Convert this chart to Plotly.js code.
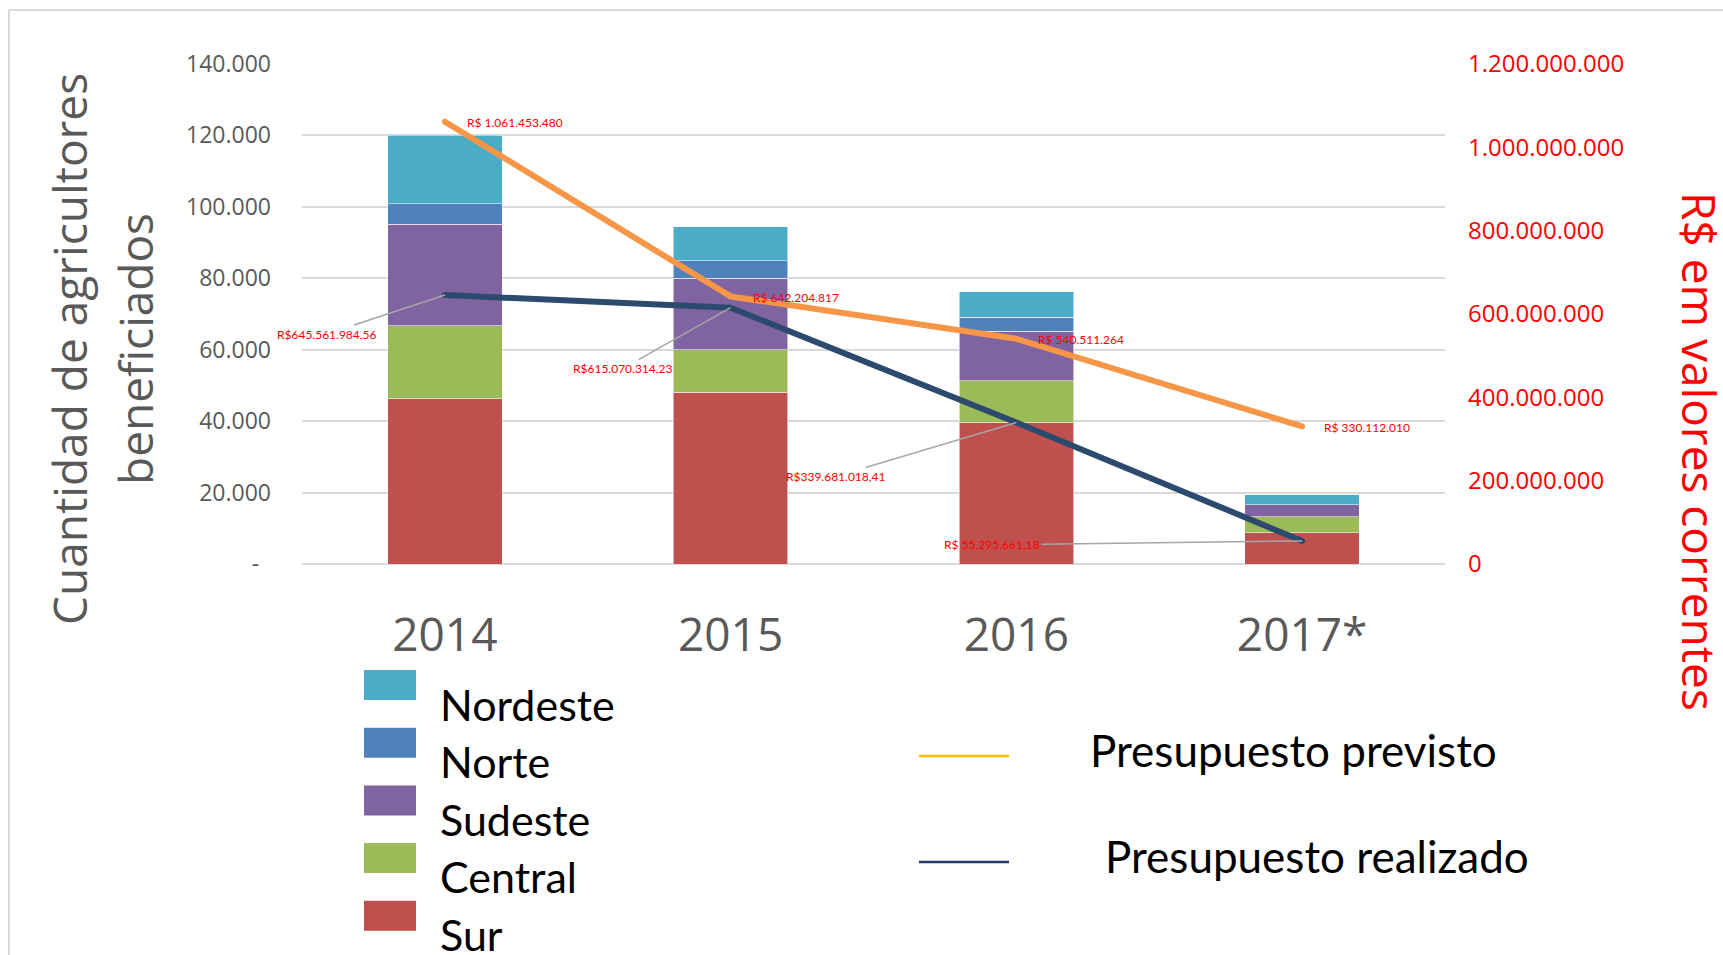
<!DOCTYPE html>
<html>
<head>
<meta charset="utf-8">
<script src="https://cdn.plot.ly/plotly-3.0.1.min.js"></script>
<style>
  html, body { margin: 0; padding: 0; background: #ffffff; }
  #chart { width: 1723px; height: 955px; }
  #chart .scatterlayer .js-line { stroke-linecap: round; stroke-linejoin: round; }
</style>
</head>
<body>
<div id="chart"></div>
<script>
// ---------- DATA ----------
const years = ['2014', '2015', '2016', '2017*'];

const regionNames = ['Sur', 'Central', 'Sudeste', 'Norte', 'Nordeste'];
const sur      = [46250, 48100, 39530, 8740];
const central  = [20460, 11900, 11820, 4560];
const sudeste  = [28360, 20000, 13860, 3350];
const norte    = [5860, 4940, 3820, 0];
const nordeste = [19070, 9480, 7250, 2790];

const previsto  = [1061453480, 642204817, 540511264, 330112010];
const realizado = [645561984.56, 615070314.23, 339681018.41, 55295661.18];

const previstoLabels  = ['R$ 1.061.453.480', 'R$ 642.204.817', 'R$ 540.511.264', 'R$ 330.112.010'];
const realizadoLabels = ['R$645.561.984,56', 'R$615.070.314,23', 'R$339.681.018,41', 'R$ 55.295.661,18'];

const leftTickVals  = [0, 20000, 40000, 60000, 80000, 100000, 120000, 140000];
const leftTickText  = ['-\u00a0\u00a0', '20.000', '40.000', '60.000', '80.000', '100.000', '120.000', '140.000'];
const rightTickVals = [0, 200000000, 400000000, 600000000, 800000000, 1000000000, 1200000000];
const rightTickText = ['0', '200.000.000', '400.000.000', '600.000.000', '800.000.000', '1.000.000.000', '1.200.000.000'];

const lineNames = ['Presupuesto previsto', 'Presupuesto realizado'];
const legendOrder = ['Nordeste', 'Norte', 'Sudeste', 'Central', 'Sur'];

// category index for each year (the axis shows the year labels)
const xi = years.map(function (_, i) { return i; });

// ---------- STYLE ----------
const regionColors = {
  'Sur': '#C0504D', 'Central': '#9BBB59', 'Sudeste': '#8064A2',
  'Norte': '#4F81BD', 'Nordeste': '#4BACC6'
};
const regionValues = { 'Sur': sur, 'Central': central, 'Sudeste': sudeste, 'Norte': norte, 'Nordeste': nordeste };
const orange = '#F79646';
const navy = '#2C4A6E';
const grey = '#595959';
const red = '#FF0000';

// plot area in pixels
const W = 1723, H = 955;
const PL = 302, PR = 1445, PT = 64, PB = 564;
function px(x) { return (x - PL) / (PR - PL); }
function py(y) { return (PB - y) / (PB - PT); }

// ---------- TRACES ----------
const traces = [];
regionNames.forEach(function (name) {
  traces.push({
    type: 'bar', name: name, x: xi, y: regionValues[name],
    marker: { color: regionColors[name], line: { color: 'rgba(255,255,255,0.55)', width: 1 } },
    showlegend: false
  });
});
traces.push({
  type: 'scatter', mode: 'lines', name: lineNames[0], x: xi, y: previsto, yaxis: 'y2',
  line: { color: orange, width: 6 }, showlegend: false
});
traces.push({
  type: 'scatter', mode: 'lines', name: lineNames[1], x: xi, y: realizado, yaxis: 'y2',
  line: { color: navy, width: 6 }, showlegend: false
});

// ---------- ANNOTATIONS ----------
const annFont = { family: 'Lato, "Open Sans", sans-serif', size: 12, color: red };
const annotations = [];
previstoLabels.forEach(function (t, i) {
  annotations.push({
    xref: 'x', yref: 'y2', x: xi[i], y: previsto[i], text: t, showarrow: false,
    xanchor: 'left', yanchor: 'middle', xshift: 20, yshift: -1, font: annFont
  });
});
const realOffsets = [[-118, 39], [-108, 61], [-181, 54], [-310, 4]];
realizadoLabels.forEach(function (t, i) {
  annotations.push({
    xref: 'x', yref: 'y2', x: xi[i], y: realizado[i], text: t, showarrow: true,
    arrowhead: 0, arrowwidth: 1.5, arrowcolor: '#A6A6A6', standoff: 0,
    ax: realOffsets[i][0], ay: realOffsets[i][1], font: annFont
  });
});

// axis titles
const titleFont = { family: '"Open Sans", sans-serif', size: 46, color: grey };
annotations.push({
  xref: 'paper', yref: 'paper', x: px(69), y: py(349), text: 'Cuantidad de agricultores',
  textangle: -90, showarrow: false, xanchor: 'center', yanchor: 'middle', font: titleFont
});
annotations.push({
  xref: 'paper', yref: 'paper', x: px(135), y: py(349), text: 'beneficiados',
  textangle: -90, showarrow: false, xanchor: 'center', yanchor: 'middle', font: titleFont
});
annotations.push({
  xref: 'paper', yref: 'paper', x: px(1700), y: py(452), text: 'R$ em valores correntes',
  textangle: 90, showarrow: false, xanchor: 'center', yanchor: 'middle',
  font: { family: '"Open Sans", sans-serif', size: 46, color: red }
});

// ---------- CUSTOM LEGEND ----------
const shapes = [];
const legFont = { family: 'Lato, sans-serif', size: 43, color: '#000000' };
legendOrder.forEach(function (name, i) {
  const top = 670 + 57.7 * i;
  shapes.push({
    type: 'rect', xref: 'paper', yref: 'paper', x0: px(364), x1: px(416), y0: py(top), y1: py(top + 30),
    fillcolor: regionColors[name], line: { width: 0 }
  });
  annotations.push({
    xref: 'paper', yref: 'paper', x: px(438), y: py(704 + 57.5 * i), text: name, showarrow: false,
    xanchor: 'left', yanchor: 'middle', font: legFont
  });
});
const lineLegend = [
  { name: lineNames[0], color: '#FFC000', ly: 756, tx: 1088, ty: 750 },
  { name: lineNames[1], color: '#1F3864', ly: 862, tx: 1103, ty: 856 }
];
lineLegend.forEach(function (d) {
  shapes.push({
    type: 'line', xref: 'paper', yref: 'paper', x0: px(919), x1: px(1009), y0: py(d.ly), y1: py(d.ly),
    line: { color: d.color, width: 2.5 }
  });
  annotations.push({
    xref: 'paper', yref: 'paper', x: px(d.tx), y: py(d.ty), text: d.name, showarrow: false,
    xanchor: 'left', yanchor: 'middle', font: { family: 'Lato, sans-serif', size: 44, color: '#000000' }
  });
});

// chart frame (top and left border)
shapes.push({ type: 'line', xref: 'paper', yref: 'paper', x0: px(9), x1: px(1730), y0: py(10), y1: py(10),
  line: { color: '#D9D9D9', width: 2 } });
shapes.push({ type: 'line', xref: 'paper', yref: 'paper', x0: px(9), x1: px(9), y0: py(10), y1: py(960),
  line: { color: '#D9D9D9', width: 2 } });

// ---------- LAYOUT ----------
const layout = {
  width: W, height: H,
  margin: { l: PL, r: W - PR, t: PT, b: H - PB, pad: 0 },
  paper_bgcolor: '#ffffff', plot_bgcolor: '#ffffff',
  barmode: 'stack', bargap: 0.6,
  showlegend: false,
  xaxis: {
    type: 'linear', range: [-0.5, xi.length - 0.5],
    tickmode: 'array', tickvals: xi, ticktext: years,
    showgrid: false, showline: false, zeroline: false, ticks: '',
    tickfont: { family: '"Open Sans", sans-serif', size: 46, color: grey },
    ticklabelstandoff: 40
  },
  yaxis: {
    range: [0, 140000], tickmode: 'array', tickvals: leftTickVals, ticktext: leftTickText,
    showgrid: true, gridcolor: '#D9D9D9', gridwidth: 2,
    zeroline: true, zerolinecolor: '#D9D9D9', zerolinewidth: 2,
    showline: false, ticks: '',
    tickfont: { family: '"Open Sans", sans-serif', size: 23, color: grey },
    ticklabelstandoff: 30
  },
  yaxis2: {
    overlaying: 'y', side: 'right', range: [0, 1200000000],
    tickmode: 'array', tickvals: rightTickVals, ticktext: rightTickText,
    showgrid: false, zeroline: false, showline: false, ticks: '',
    tickfont: { family: '"Open Sans", sans-serif', size: 24, color: red },
    ticklabelstandoff: 22
  },
  annotations: annotations,
  shapes: shapes,
  hovermode: false
};

Plotly.newPlot('chart', traces, layout, { displayModeBar: false, staticPlot: true });
</script>
</body>
</html>
